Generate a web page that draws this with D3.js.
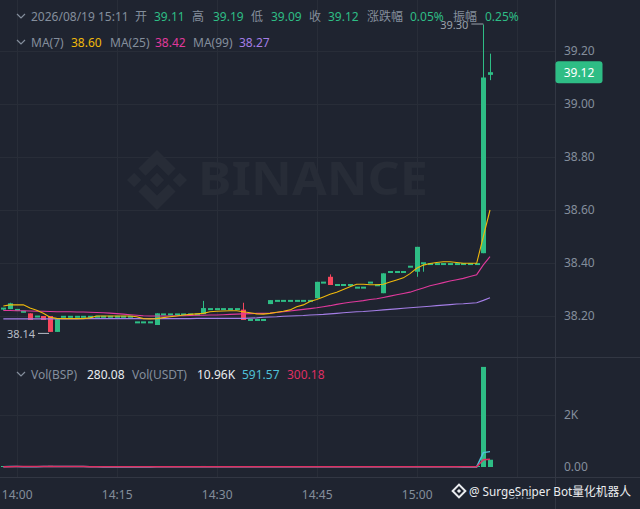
<!DOCTYPE html>
<html>
<head>
<meta charset="utf-8">
<script src="https://cdn.jsdelivr.net/npm/d3@7"></script>
<style>
  html, body { margin: 0; padding: 0; background: #1f2430; }
  svg { display: block; font-family: "Noto Sans", "Noto Sans CJK SC", sans-serif; }
</style>
</head>
<body>
<svg id="chart" width="640" height="509"></svg>
<script>
// 1m candles, first one at 13:58
var startTime = "2026-08-19 13:58";

var opens = [38.224, 38.226, 38.221, 38.214, 38.210, 38.197, 38.200, 38.200, 38.140,
  38.197, 38.197, 38.197, 38.197, 38.197, 38.197, 38.197, 38.197, 38.197, 38.197, 38.197,
  38.176, 38.176, 38.176, 38.166,
  38.206, 38.206, 38.206, 38.206, 38.206, 38.206, 38.207,
  38.226, 38.226, 38.226, 38.226, 38.226, 38.224,
  38.185, 38.185, 38.185, 38.245,
  38.257, 38.257, 38.257, 38.257, 38.257, 38.257, 38.267, 38.326, 38.348,
  38.317, 38.317, 38.317, 38.307, 38.307, 38.326, 38.316, 38.286,
  38.366, 38.366, 38.366, 38.386, 38.367, 38.399,
  38.396, 38.396, 38.396, 38.396, 38.396, 38.396, 38.396, 38.396,
  38.437, 39.110];
var closes = [38.228, 38.248, 38.223, 38.216, 38.185, 38.198, 38.185, 38.140, 38.188,
  38.197, 38.197, 38.197, 38.197, 38.197, 38.197, 38.197, 38.197, 38.197, 38.197, 38.197,
  38.176, 38.176, 38.176, 38.210,
  38.206, 38.206, 38.206, 38.206, 38.206, 38.206, 38.230,
  38.226, 38.226, 38.226, 38.226, 38.226, 38.185,
  38.185, 38.185, 38.185, 38.260,
  38.257, 38.257, 38.257, 38.257, 38.257, 38.257, 38.329, 38.326, 38.317,
  38.317, 38.317, 38.317, 38.307, 38.307, 38.326, 38.316, 38.361,
  38.366, 38.366, 38.366, 38.386, 38.461, 38.399,
  38.396, 38.396, 38.396, 38.396, 38.396, 38.396, 38.396, 38.396,
  39.100, 39.120];
var highs = [38.230, 38.250, 38.223, 38.216, 38.210, 38.198, 38.200, 38.200, 38.188,
  38.197, 38.197, 38.197, 38.197, 38.197, 38.197, 38.197, 38.197, 38.197, 38.197, 38.197,
  38.176, 38.176, 38.176, 38.210,
  38.206, 38.206, 38.206, 38.206, 38.206, 38.206, 38.257,
  38.226, 38.226, 38.226, 38.226, 38.226, 38.250,
  38.185, 38.185, 38.185, 38.260,
  38.257, 38.257, 38.257, 38.257, 38.257, 38.257, 38.329, 38.326, 38.357,
  38.317, 38.317, 38.317, 38.307, 38.307, 38.326, 38.316, 38.361,
  38.366, 38.366, 38.366, 38.386, 38.461, 38.399,
  38.396, 38.396, 38.396, 38.396, 38.396, 38.396, 38.396, 38.396,
  39.300, 39.190];
var lows = [38.222, 38.226, 38.221, 38.214, 38.185, 38.197, 38.185, 38.140, 38.140,
  38.197, 38.197, 38.197, 38.197, 38.197, 38.197, 38.197, 38.197, 38.197, 38.197, 38.197,
  38.176, 38.176, 38.176, 38.166,
  38.206, 38.206, 38.206, 38.206, 38.206, 38.206, 38.207,
  38.226, 38.226, 38.226, 38.226, 38.226, 38.185,
  38.185, 38.185, 38.185, 38.245,
  38.257, 38.257, 38.257, 38.257, 38.257, 38.257, 38.267, 38.326, 38.317,
  38.317, 38.317, 38.317, 38.307, 38.307, 38.326, 38.316, 38.286,
  38.366, 38.366, 38.366, 38.386, 38.348, 38.367,
  38.396, 38.396, 38.396, 38.396, 38.396, 38.396, 38.396, 38.396,
  38.437, 39.090];
var volumes = [8, 25, 6, 5, 20, 4, 30, 45, 35,
  3, 4, 3, 5, 3, 4, 3, 3, 4, 3, 5,
  5, 4, 5, 30,
  4, 3, 4, 3, 4, 5, 40,
  5, 4, 5, 4, 6, 35,
  4, 3, 4, 15,
  4, 3, 4, 5, 3, 4, 30, 5, 20,
  4, 3, 4, 4, 5, 6, 4, 35,
  5, 4, 5, 6, 40, 10,
  3, 4, 3, 3, 4, 3, 3, 4,
  3850, 280.08];

var ma7 = [38.238, 38.242, 38.242, 38.242, 38.230, 38.222, 38.210, 38.195, 38.191,
  38.190, 38.190, 38.190, 38.190, 38.193, 38.200, 38.200, 38.200, 38.200, 38.200, 38.200,
  38.197, 38.190, 38.189, 38.190,
  38.194, 38.197, 38.200, 38.204, 38.206, 38.208, 38.210,
  38.216, 38.218, 38.219, 38.220, 38.220, 38.216,
  38.212, 38.208, 38.207, 38.210,
  38.214, 38.218, 38.223, 38.235, 38.242, 38.255, 38.262, 38.272, 38.282,
  38.290, 38.300, 38.310, 38.320, 38.320, 38.318, 38.318, 38.320,
  38.328, 38.336, 38.344, 38.360, 38.380, 38.392,
  38.398, 38.402, 38.405, 38.405, 38.402, 38.399, 38.399, 38.399,
  38.500, 38.600];
var ma25 = [38.221, 38.221, 38.220, 38.220, 38.219, 38.218, 38.218, 38.217, 38.216,
  38.216, 38.216, 38.215, 38.215, 38.214, 38.213, 38.212, 38.211, 38.209, 38.207, 38.205,
  38.203, 38.201, 38.200, 38.200,
  38.200, 38.200, 38.201, 38.201, 38.202, 38.203, 38.203,
  38.204, 38.204, 38.205, 38.206, 38.207, 38.208,
  38.209, 38.210, 38.210, 38.211,
  38.213, 38.216, 38.219, 38.222, 38.225, 38.228, 38.231, 38.235, 38.239,
  38.244, 38.248, 38.252, 38.255, 38.258, 38.262, 38.265, 38.270,
  38.275, 38.280, 38.285, 38.290, 38.298, 38.306,
  38.314, 38.320, 38.326, 38.332, 38.337, 38.342, 38.349, 38.356,
  38.393, 38.424];
var ma99 = [38.189, 38.189, 38.189, 38.189, 38.189, 38.189, 38.189, 38.189, 38.189,
  38.189, 38.189, 38.189, 38.190, 38.190, 38.190, 38.190, 38.190, 38.190, 38.190, 38.190,
  38.190, 38.190, 38.190, 38.190,
  38.190, 38.190, 38.190, 38.190, 38.190, 38.191, 38.191,
  38.191, 38.191, 38.191, 38.191, 38.191, 38.191,
  38.192, 38.193, 38.195, 38.196,
  38.197, 38.199, 38.200, 38.201, 38.202, 38.204, 38.205, 38.206, 38.208,
  38.210, 38.212, 38.214, 38.216, 38.217, 38.219, 38.221, 38.223,
  38.225, 38.227, 38.229, 38.231, 38.233, 38.235,
  38.237, 38.239, 38.241, 38.243, 38.245, 38.246, 38.248, 38.250,
  38.259, 38.269];
var volMa7 = [14, 15, 15, 14, 14, 13, 16, 19, 24,
  22, 21, 18, 15, 11, 5, 4, 4, 4, 4, 4,
  4, 4, 4, 8,
  8, 8, 8, 8, 8, 8, 10,
  10, 10, 10, 9, 9, 9,
  9, 8, 8, 7,
  7, 7, 6, 6, 5, 5, 9, 9, 10,
  10, 10, 10, 6, 5, 5, 6, 10,
  10, 9, 10, 10, 13, 14,
  13, 10, 9, 8, 6, 4, 3, 3,
  553, 591.57];
var volMa14 = [14, 14, 15, 15, 15, 15, 16, 17, 18,
  18, 17, 16, 15, 14, 13, 12, 12, 11, 10, 8,
  5, 5, 6, 7,
  7, 7, 7, 7, 7, 8, 8,
  9, 9, 9, 9, 9, 9,
  9, 9, 9, 9,
  8, 8, 8, 8, 8, 8, 8, 8, 8,
  8, 8, 8, 8, 8, 8, 8, 9,
  9, 9, 9, 9, 10, 10,
  10, 10, 10, 9, 9, 9, 8, 8,
  280, 300.18];

var priceTicks = [38.20, 38.40, 38.60, 38.80, 39.00, 39.20];
var volTicks = [0, 2000];

var headerRow = [
  {t: "2026/08/19 15:11", x: 31, c: "#848e9c"},
  {t: "开", x: 135, c: "#848e9c"}, {t: "39.11", x: 154, c: "#2ebd85"},
  {t: "高", x: 192, c: "#848e9c"}, {t: "39.19", x: 213, c: "#2ebd85"},
  {t: "低", x: 251, c: "#848e9c"}, {t: "39.09", x: 271, c: "#2ebd85"},
  {t: "收", x: 309, c: "#848e9c"}, {t: "39.12", x: 328, c: "#2ebd85"},
  {t: "涨跌幅", x: 367, c: "#848e9c"}, {t: "0.05%", x: 410, c: "#2ebd85"},
  {t: "振幅", x: 453, c: "#848e9c"}, {t: "0.25%", x: 485, c: "#2ebd85"}
];
var maRow = [
  {t: "MA(7)", x: 31, c: "#848e9c"}, {t: "38.60", x: 71, c: "#f0b90b"},
  {t: "MA(25)", x: 110, c: "#848e9c"}, {t: "38.42", x: 155, c: "#e0399c"},
  {t: "MA(99)", x: 193, c: "#848e9c"}, {t: "38.27", x: 239, c: "#a47ee6"}
];
var volRow = [
  {t: "Vol(BSP)", x: 31, c: "#848e9c"}, {t: "280.08", x: 87, c: "#eaecef"},
  {t: "Vol(USDT)", x: 132, c: "#848e9c"}, {t: "10.96K", x: 197, c: "#eaecef"},
  {t: "591.57", x: 242, c: "#4fc0d8"}, {t: "300.18", x: 287, c: "#df2f63"}
];

var up = "#2ebd85", down = "#f6465d", gridC = "#282d38", sepC = "#323743", axisC = "#848e9c";

var parse = d3.timeParse("%Y-%m-%d %H:%M");
var t0 = parse(startTime);
var times = closes.map(function(d, i) { return d3.timeMinute.offset(t0, i); });

var x = d3.scaleTime()
  .domain([parse("2026-08-19 14:00"), parse("2026-08-19 15:15")])
  .range([16.67, 516.67]);
var y = d3.scaleLinear().domain([38.2, 39.2]).range([316, 51]);
var yv = d3.scaleLinear().domain([0, 2000]).range([467, 415]);

var svg = d3.select("#chart");
svg.append("rect").attr("width", 640).attr("height", 509).attr("fill", "#1f2430");

var defs = svg.append("defs");
defs.append("clipPath").attr("id", "mainClip").append("rect")
  .attr("x", 0).attr("y", 0).attr("width", 555).attr("height", 357);
defs.append("clipPath").attr("id", "volClip").append("rect")
  .attr("x", 0).attr("y", 358).attr("width", 555).attr("height", 119);

// grid
var timeTicks = x.ticks(d3.timeMinute.every(15));
svg.append("g").selectAll("line").data(timeTicks).enter().append("line")
  .attr("x1", function(d) { return Math.round(x(d)) + 0.5; })
  .attr("x2", function(d) { return Math.round(x(d)) + 0.5; })
  .attr("y1", 0).attr("y2", 477).attr("stroke", gridC);
svg.append("g").selectAll("line").data(priceTicks).enter().append("line")
  .attr("x1", 0).attr("x2", 555)
  .attr("y1", function(d) { return Math.round(y(d)) + 0.5; })
  .attr("y2", function(d) { return Math.round(y(d)) + 0.5; })
  .attr("stroke", gridC);
svg.append("line").attr("x1", 0).attr("x2", 555)
  .attr("y1", Math.round(yv(2000)) + 0.5).attr("y2", Math.round(yv(2000)) + 0.5).attr("stroke", gridC);

// watermark logo
var logo = svg.append("g").attr("transform", "translate(127,150) scale(0.6)").attr("fill", "#272c37");
[
  [[50,38],[62,50],[50,62],[38,50]],
  [[0,50],[12,38],[24,50],[12,62]],
  [[76,50],[88,38],[100,50],[88,62]],
  [[50,0],[81,31],[69,43],[50,24],[31,43],[19,31]],
  [[50,100],[81,69],[69,57],[50,76],[31,57],[19,69]]
].forEach(function(p) {
  logo.append("polygon").attr("points", p.map(function(q) { return q.join(","); }).join(" "));
});
svg.append("text").attr("x", 198).attr("y", 195).attr("font-size", 46).attr("font-weight", 700)
  .attr("fill", "#272c37").attr("textLength", 230).attr("lengthAdjust", "spacingAndGlyphs")
  .text("BINANCE");

// main panel
var main = svg.append("g").attr("clip-path", "url(#mainClip)");
var candles = d3.range(closes.length);
function colorOf(i) { return closes[i] >= opens[i] ? up : down; }

main.append("g").selectAll("line").data(candles).enter().append("line")
  .attr("x1", function(i) { return Math.round(x(times[i])) + 0.5; })
  .attr("x2", function(i) { return Math.round(x(times[i])) + 0.5; })
  .attr("y1", function(i) { return y(highs[i]); })
  .attr("y2", function(i) { return y(lows[i]); })
  .attr("stroke", colorOf).attr("stroke-width", 1);

main.append("g").selectAll("rect").data(candles).enter().append("rect")
  .attr("x", function(i) { return Math.round(x(times[i])) - 2; })
  .attr("width", 5)
  .attr("y", function(i) {
    var a = y(opens[i]), b = y(closes[i]);
    return Math.abs(a - b) < 2 ? Math.min(a, b) - 1 : Math.min(a, b);
  })
  .attr("height", function(i) { return Math.max(2, Math.abs(y(opens[i]) - y(closes[i]))); })
  .attr("fill", colorOf);

function maLine(vals, sc) {
  return d3.line()
    .x(function(d, i) { return x(times[i]); })
    .y(function(d) { return sc(d); })(vals);
}
main.append("path").attr("d", maLine(ma99, y)).attr("fill", "none").attr("stroke", "#a47ee6").attr("stroke-width", 1.1);
main.append("path").attr("d", maLine(ma25, y)).attr("fill", "none").attr("stroke", "#e0399c").attr("stroke-width", 1.1);
main.append("path").attr("d", maLine(ma7, y)).attr("fill", "none").attr("stroke", "#f0b90b").attr("stroke-width", 1.1);

// high / low marks
var iHigh = d3.maxIndex(highs), iLow = d3.minIndex(lows);
var hx = x(times[iHigh]), lx = x(times[iLow]);
svg.append("line").attr("x1", hx - 12).attr("x2", hx).attr("y1", y(highs[iHigh]) - 0.5).attr("y2", y(highs[iHigh]) - 0.5)
  .attr("stroke", "#9aa1ab");
svg.append("text").attr("x", hx - 15).attr("y", y(highs[iHigh]) + 4).attr("text-anchor", "end")
  .attr("font-size", 11).attr("fill", "#9aa1ab").text(highs[iHigh].toFixed(2));
svg.append("line").attr("x1", lx - 12).attr("x2", lx - 1).attr("y1", y(lows[iLow]) + 1.5).attr("y2", y(lows[iLow]) + 1.5)
  .attr("stroke", "#b7bdc6");
svg.append("text").attr("x", lx - 15).attr("y", y(lows[iLow]) + 6).attr("text-anchor", "end")
  .attr("font-size", 11).attr("fill", "#b7bdc6").text(lows[iLow].toFixed(2));

// volume panel
var vol = svg.append("g").attr("clip-path", "url(#volClip)");
vol.append("g").selectAll("rect").data(candles).enter().append("rect")
  .attr("x", function(i) { return Math.round(x(times[i])) - 2; })
  .attr("width", 5)
  .attr("y", function(i) { return Math.min(yv(volumes[i]), yv(0) - 1); })
  .attr("height", function(i) { return Math.max(1, yv(0) - yv(volumes[i])); })
  .attr("fill", colorOf);
vol.append("path").attr("d", maLine(volMa7, yv)).attr("fill", "none").attr("stroke", "#4fc0d8").attr("stroke-width", 1.5);
vol.append("path").attr("d", maLine(volMa14, yv)).attr("fill", "none").attr("stroke", "#df2f63").attr("stroke-width", 1.5);

// separators
svg.append("line").attr("x1", 0).attr("x2", 640).attr("y1", 357.5).attr("y2", 357.5).attr("stroke", sepC);
svg.append("line").attr("x1", 0).attr("x2", 640).attr("y1", 477.5).attr("y2", 477.5).attr("stroke", sepC);
svg.append("line").attr("x1", 555.5).attr("x2", 555.5).attr("y1", 0).attr("y2", 509).attr("stroke", sepC);

// axes
var yAxis = svg.append("g").attr("transform", "translate(555,0)")
  .call(d3.axisRight(y).tickValues(priceTicks).tickFormat(d3.format(".2f")).tickSize(0).tickPadding(9));
var vAxis = svg.append("g").attr("transform", "translate(555,0)")
  .call(d3.axisRight(yv).tickValues(volTicks).tickSize(0).tickPadding(9)
    .tickFormat(function(d) { return d === 0 ? "0.00" : d3.format("~s")(d).toUpperCase(); }));
var xAxis = svg.append("g").attr("transform", "translate(0,477)")
  .call(d3.axisBottom(x).ticks(d3.timeMinute.every(15)).tickFormat(d3.timeFormat("%H:%M")).tickSize(0).tickPadding(13));
[yAxis, vAxis, xAxis].forEach(function(a) {
  a.select(".domain").remove();
  a.selectAll("text").attr("fill", axisC).attr("font-size", 12).attr("font-family", "Noto Sans, sans-serif");
});

// last price tag
var last = closes[closes.length - 1];
svg.append("rect").attr("x", 555.5).attr("y", y(last) - 11).attr("width", 47).attr("height", 22).attr("rx", 3)
  .attr("fill", up);
svg.append("text").attr("x", 579).attr("y", y(last) + 4.5).attr("text-anchor", "middle")
  .attr("font-size", 12).attr("fill", "#ffffff").text(last.toFixed(2));

// legends
function legend(items, yc) {
  svg.append("path").attr("d", "M17," + (yc - 2) + " l4,4 l4,-4").attr("fill", "none")
    .attr("stroke", axisC).attr("stroke-width", 1.2);
  svg.append("g").selectAll("text").data(items).enter().append("text")
    .attr("x", function(d) { return d.x; }).attr("y", yc + 4.5)
    .attr("font-size", 12).attr("fill", function(d) { return d.c; })
    .text(function(d) { return d.t; });
}
legend(headerRow, 16);
legend(maRow, 42);
legend(volRow, 374);

// bottom-right watermark
var wm = svg.append("g").attr("transform", "translate(459,491)");
wm.append("rect").attr("x", -4.5).attr("y", -4.5).attr("width", 9).attr("height", 9)
  .attr("transform", "rotate(45)").attr("fill", "none").attr("stroke", "#eaecef").attr("stroke-width", 2);
wm.append("rect").attr("x", -1.5).attr("y", -1.5).attr("width", 3).attr("height", 3)
  .attr("transform", "rotate(45)").attr("fill", "#eaecef");
svg.append("text").attr("x", 469).attr("y", 496).attr("font-size", 12.5).attr("fill", "#eaecef")
  .attr("stroke", "#1f2430").attr("stroke-width", 2).attr("paint-order", "stroke")
  .attr("textLength", 162).attr("lengthAdjust", "spacingAndGlyphs")
  .attr("font-family", "Noto Sans, Noto Sans CJK SC, sans-serif")
  .text("@ SurgeSniper Bot量化机器人");
</script>
</body>
</html>
